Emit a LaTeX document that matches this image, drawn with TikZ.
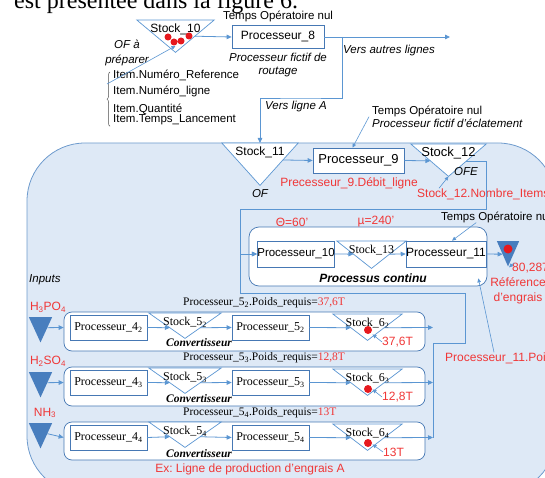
\documentclass[tikz,border=0pt]{standalone}
\usepackage{fontspec}
\setmainfont{Liberation Serif}
\setsansfont{Liberation Sans}
\usepackage{xcolor}
\usetikzlibrary{arrows.meta, positioning, calc, decorations.pathreplacing}

\definecolor{zonefill}{RGB}{222,233,246}
\definecolor{zoneline}{RGB}{110,155,205}
\definecolor{flowblue}{RGB}{91,150,210}
\definecolor{boxline}{RGB}{70,120,180}
\definecolor{inblue}{RGB}{72,126,190}
\definecolor{dotred}{RGB}{230,25,30}
\definecolor{notered}{RGB}{240,55,55}

\pgfdeclarelayer{back}
\pgfdeclarelayer{mid}
\pgfsetlayers{back,mid,main}

\begin{document}
\begin{tikzpicture}[x=1pt, y=-1pt,
        proc/.style={rectangle, draw=boxline, fill=white, line width=0.7pt, inner sep=0pt, minimum height=25pt, minimum width=#1, font=\sffamily\fontsize{12}{14}\selectfont},
        procrow/.style={proc=77pt, font=\rmfamily\fontsize{12}{14}\selectfont},
        stock/.style 2 args={anchor=north, inner sep=0pt, minimum width=#1, text height=12pt, text depth=#2, font=\sffamily\fontsize{12}{14}\selectfont},
        stockrow/.style 2 args={stock={#1}{#2}, font=\rmfamily\fontsize{12}{14}\selectfont},
        source/.style={anchor=north, inner sep=0pt, minimum width=23pt, minimum height=25pt},
        line/.style={rectangle, rounded corners=8pt, draw=boxline, fill=white, line width=0.7pt, minimum width=361pt, minimum height=39pt},
        tri/.style={draw=flowblue, fill=white, line width=0.7pt},
        arrow/.style={-{Triangle[length=5pt, width=4.5pt]}, draw=flowblue, line width=0.8pt},
        pointer/.style={-{Triangle[length=4pt, width=3.5pt]}, draw=flowblue, line width=0.6pt},
        link/.style={draw=flowblue, line width=0.8pt},
        note/.style={font=\sffamily\itshape\fontsize{11.5}{15}\selectfont, align=center},
        plain/.style={font=\sffamily\fontsize{11.5}{13}\selectfont, align=left},
        warn/.style={font=\sffamily\fontsize{12}{15}\selectfont, text=notered, align=center},
        serifnote/.style={font=\rmfamily\fontsize{11.5}{13}\selectfont, anchor=west, inner sep=0pt}
    ]
        \useasboundingbox (0,0) rectangle (545,478);

        % Cut text of the page
        \node[font=\rmfamily\fontsize{24}{28}\selectfont, anchor=base west, inner sep=0pt] (titre) at (14,9) {est présentée dans la figure 6.};

        % Routing stage
        \node[stock={77pt}{20pt}] (s10) at (175.5,20) {Stock\_10};
        \node[proc=92pt, minimum height=23pt] (p8) at (278,37) {Processeur\_8};
        \node[plain, above=-0.5pt of p8] (nul8) {Temps Opératoire nul};
        \node[note, below=1pt of p8, font=\sffamily\itshape\fontsize{11.5}{13}\selectfont] (fictif8) {Processeur fictif de\\routage};
        \node[note] (ofprep) at (127,53) {OF à\\préparer};
        \node[plain, anchor=north west, inner sep=0pt] (items) at (113,70) {Item.Numéro\_Reference\\[3pt]Item.Numéro\_ligne\\[5pt]Item.Quantité\\[-3pt]Item.Temps\_Lancement};
        \coordinate (ofstart) at (107,84);
        \coordinate (split) at (342,37);
        \coordinate (autres) at (450,37);
        \coordinate (vlA) at (300,98);
        \node[note] (versautres) at (389,51) {Vers autres lignes};
        \node[note] (verslA) at (296,107) {Vers ligne A};

        % Production line A
        \begin{pgfonlayer}{back}
            \draw[zoneline, fill=zonefill, line width=0.8pt, rounded corners=58pt] (27,143) rectangle (556,494);
            \node[rectangle, rounded corners=10pt, draw=boxline, fill=white, line width=0.7pt, minimum width=238pt, minimum height=59pt] (cont) at (368,256.5) {};
            \node[line] (row1) at (244.5,331.5) {};
            \node[line] (row2) at (244.5,386.5) {};
            \node[line, minimum height=38pt] (row3) at (244.5,441) {};
        \end{pgfonlayer}

        \node[stock={76pt}{30pt}] (s11) at (260,143) {Stock\_11};
        \node[proc=91pt, font=\sffamily\fontsize{13}{15}\selectfont] (p9) at (358.5,160.5) {Processeur\_9};
        \node[stock={75pt}{20pt}, font=\sffamily\fontsize{13}{15}\selectfont] (s12) at (448.5,144) {Stock\_12};
        \node[note, below=1pt of s11] (of) {OF};
        \node[note] (ofe) at (466,172) {OFE};
        \node[warn] (debit) at (349,183) {Precesseur\_9.Débit\_ligne};
        \node[warn, anchor=west, inner sep=0pt] (nbitems) at (417,194) {Stock\_12.Nombre\_Items};
        \node[plain, anchor=north west, inner sep=0pt, font=\sffamily\fontsize{11.5}{12.5}\selectfont] (eclat) at (372,106) {Temps Opératoire nul\\\textit{Processeur fictif d'éclatement}};

        % Continuous process
        \node[proc=76pt, minimum height=26pt, font=\sffamily\fontsize{11.5}{14}\selectfont] (p10) at (296,254) {Processeur\_10};
        \node[stock={69pt}{15pt}, font=\rmfamily\fontsize{12}{14}\selectfont] (s13) at (371.5,241) {Stock\_13};
        \node[proc=78pt, minimum height=26pt] (p11) at (446,254) {Processeur\_11};
        \node[font=\sffamily\bfseries\itshape\fontsize{12}{14}\selectfont] (contlabel) at (373,278) {Processus continu};
        \node[warn] (theta) at (292,222) {Θ=60'};
        \node[warn] (mu) at (376,222) {µ=240'};
        \node[plain, anchor=west, inner sep=0pt] (nul11) at (441,217) {Temps Opératoire nul};
        \node[source, minimum width=22pt] (tgt) at (508,241) {};
        \node[warn, anchor=west, inner sep=0pt] (val) at (512,268) {80,287T};
        \node[warn] (refeng) at (518,291) {Référence\\d'engrais};
        \node[warn, anchor=west, inner sep=0pt] (poids11) at (445,358) {Processeur\_11.Poids};

        % Inputs
        \node[note, anchor=west, inner sep=0pt] (inputs) at (29,280) {Inputs};
        \node[warn] (h3po4) at (48,307) {H\textsubscript{3}PO\textsubscript{4}};
        \node[warn] (h2so4) at (48,361) {H\textsubscript{2}SO\textsubscript{4}};
        \node[warn] (nh3) at (45,413) {NH\textsubscript{3}};
        \node[source] (in1) at (40.5,317) {};
        \node[source] (in2) at (40.5,372) {};
        \node[source] (in3) at (40.5,423) {};

        % Converter rows
        \node[procrow] (p42) at (108.5,327.5) {Processeur\_4\textsubscript{2}};
        \node[procrow] (p43) at (108.5,382.5) {Processeur\_4\textsubscript{3}};
        \node[procrow] (p44) at (108.5,437.5) {Processeur\_4\textsubscript{4}};
        \node[stockrow={72pt}{13pt}] (s52) at (185,313) {Stock\_5\textsubscript{2}};
        \node[stockrow={72pt}{13pt}] (s53) at (185,368) {Stock\_5\textsubscript{3}};
        \node[stockrow={72pt}{13pt}] (s54) at (185,422) {Stock\_5\textsubscript{4}};
        \node[procrow] (p52) at (270.5,327.5) {Processeur\_5\textsubscript{2}};
        \node[procrow] (p53) at (270.5,382.5) {Processeur\_5\textsubscript{3}};
        \node[procrow] (p54) at (270.5,437.5) {Processeur\_5\textsubscript{4}};
        \node[stockrow={69pt}{14pt}] (s62) at (367.5,314) {Stock\_6\textsubscript{2}};
        \node[stockrow={69pt}{14pt}] (s63) at (367.5,369) {Stock\_6\textsubscript{3}};
        \node[stockrow={69pt}{14pt}] (s64) at (367.5,424) {Stock\_6\textsubscript{4}};
        \node[font=\rmfamily\bfseries\itshape\fontsize{11.5}{13}\selectfont] (conv2) at (199,343) {Convertisseur};
        \node[font=\rmfamily\bfseries\itshape\fontsize{11.5}{13}\selectfont] (conv3) at (199,399) {Convertisseur};
        \node[font=\rmfamily\bfseries\itshape\fontsize{11.5}{13}\selectfont] (conv4) at (199,454) {Convertisseur};
        \node[serifnote] (req2) at (183,303) {Processeur\_5\textsubscript{2}.Poids\_requis=\textcolor{notered}{37,6T}};
        \node[serifnote] (req3) at (183,358) {Processeur\_5\textsubscript{3}.Poids\_requis=\textcolor{notered}{12,8T}};
        \node[serifnote] (req4) at (183,413) {Processeur\_5\textsubscript{4}.Poids\_requis=\textcolor{notered}{13T}};
        \node[warn, anchor=west, inner sep=0pt] (w62) at (382,342) {37,6T};
        \node[warn, anchor=west, inner sep=0pt] (w63) at (382,397) {12,8T};
        \node[warn, anchor=west, inner sep=0pt] (w64) at (383,452) {13T};
        \node[warn] (exline) at (250,469) {Ex:\ Ligne de production d'engrais A};
        \coordinate (m1) at (433,327.5);
        \coordinate (m2) at (433,382.5);
        \coordinate (m3) at (433,437.5);
        \coordinate (mA) at (465,343);
        \coordinate (mB) at (240,293);
        \coordinate (lA) at (486,209);

        % Triangles
        \begin{pgfonlayer}{mid}
            \foreach \s in {s10,s11,s12,s13,s52,s53,s54,s62,s63,s64}
                \draw[tri] (\s.north west) -- (\s.north east) -- (\s.south) -- cycle;
            \foreach \s in {in1,in2,in3,tgt}
                \fill[inblue] (\s.north west) -- (\s.north east) -- (\s.south) -- cycle;
        \end{pgfonlayer}

        % Items in stock
        \fill[dotred] (168,37) circle (3.5pt) (174,42) circle (3.5pt) (181,41) circle (3.5pt) (189,36) circle (3.5pt);
        \fill[dotred] (508,249) circle (4.5pt);
        \fill[dotred] (368,330) circle (4pt) (368,389) circle (4pt) (368,443) circle (4pt);

        % Arrows
        \draw[decorate, decoration={brace, amplitude=3pt}, black!70, line width=0.5pt] ([xshift=-3pt, yshift=-1pt]items.south west) -- ([xshift=-3pt, yshift=-2pt]items.north west);
        \draw[pointer] (ofstart) -- ($(s10.south)!0.2!(s10.north)$);
        \draw[arrow] ($(s10.north east)!0.5!(s10.south)$) -- (p8.west);
        \draw[arrow] (p8) -- (autres);
        \draw[arrow] (split) |- (vlA) -| (s11.north);
        \draw[arrow] ($(s11.north east)!0.4!(s11.south)$) -- (p9.west);
        \draw[arrow] (p9.east) -- ($(s12.north west)!0.52!(s12.south)$);
        \draw[pointer] ([xshift=22pt]nbitems.north west) -- (s12.south);
        \draw[pointer] ([xshift=-3pt]eclat.west) -- ([xshift=-6pt]p9.north);
        \draw[arrow] ($(s12.north east)!0.53!(s12.south)$) -| (lA) -- (lA -| mB) |- (p10.west);
        \draw[arrow] (m3) |- (mA) |- (mB) |- (p10.west);
        \draw[arrow] (p10.east) -- ($(s13.north west)!0.48!(s13.south)$);
        \draw[arrow] ($(s13.north east)!0.48!(s13.south)$) -- (p11.west);
        \draw[arrow] (p11.east) -- ($(tgt.north west)!0.52!(tgt.south)$);
        \draw[pointer] ([xshift=-20pt]nul11.south) -- ([xshift=6pt]p11.north);
        \draw[pointer] ([xshift=2pt]val.north west) -- ([xshift=1pt, yshift=-1pt]tgt.south);
        \draw[pointer] ([xshift=49pt]poids11.north west) -- ([xshift=-9pt, yshift=8pt]cont.south east);

        \draw[arrow] ($(in1.north east)!0.42!(in1.south)$) -- (row1.west |- p42);
        \draw[arrow] ($(in2.north east)!0.42!(in2.south)$) -- (row2.west |- p43);
        \draw[arrow] ($(in3.north east)!0.42!(in3.south)$) -- (row3.west |- p44);
        \draw[arrow] (p42.east) -- ($(s52.north west)!0.58!(s52.south)$);
        \draw[arrow] (p43.east) -- ($(s53.north west)!0.58!(s53.south)$);
        \draw[arrow] (p44.east) -- ($(s54.north west)!0.58!(s54.south)$);
        \draw[arrow] ($(s52.north east)!0.58!(s52.south)$) -- (p52.west);
        \draw[arrow] ($(s53.north east)!0.58!(s53.south)$) -- (p53.west);
        \draw[arrow] ($(s54.north east)!0.58!(s54.south)$) -- (p54.west);
        \draw[arrow] (p52.east) -- ($(s62.north west)!0.52!(s62.south)$);
        \draw[arrow] (p53.east) -- ($(s63.north west)!0.52!(s63.south)$);
        \draw[arrow] (p54.east) -- ($(s64.north west)!0.52!(s64.south)$);
        \draw[arrow] ($(s62.north east)!0.52!(s62.south)$) -- (m1);
        \draw[arrow] ($(s63.north east)!0.52!(s63.south)$) -- (m2);
        \draw[arrow] ($(s64.north east)!0.52!(s64.south)$) -- (m3);
        \draw[pointer] (w62.west) -- ([xshift=5pt, yshift=6pt]s62.south);
        \draw[pointer] (w63.west) -- ([xshift=5pt, yshift=6pt]s63.south);
        \draw[pointer] (w64.west) -- ([xshift=5pt, yshift=6pt]s64.south);
    \end{tikzpicture}
\end{document}
